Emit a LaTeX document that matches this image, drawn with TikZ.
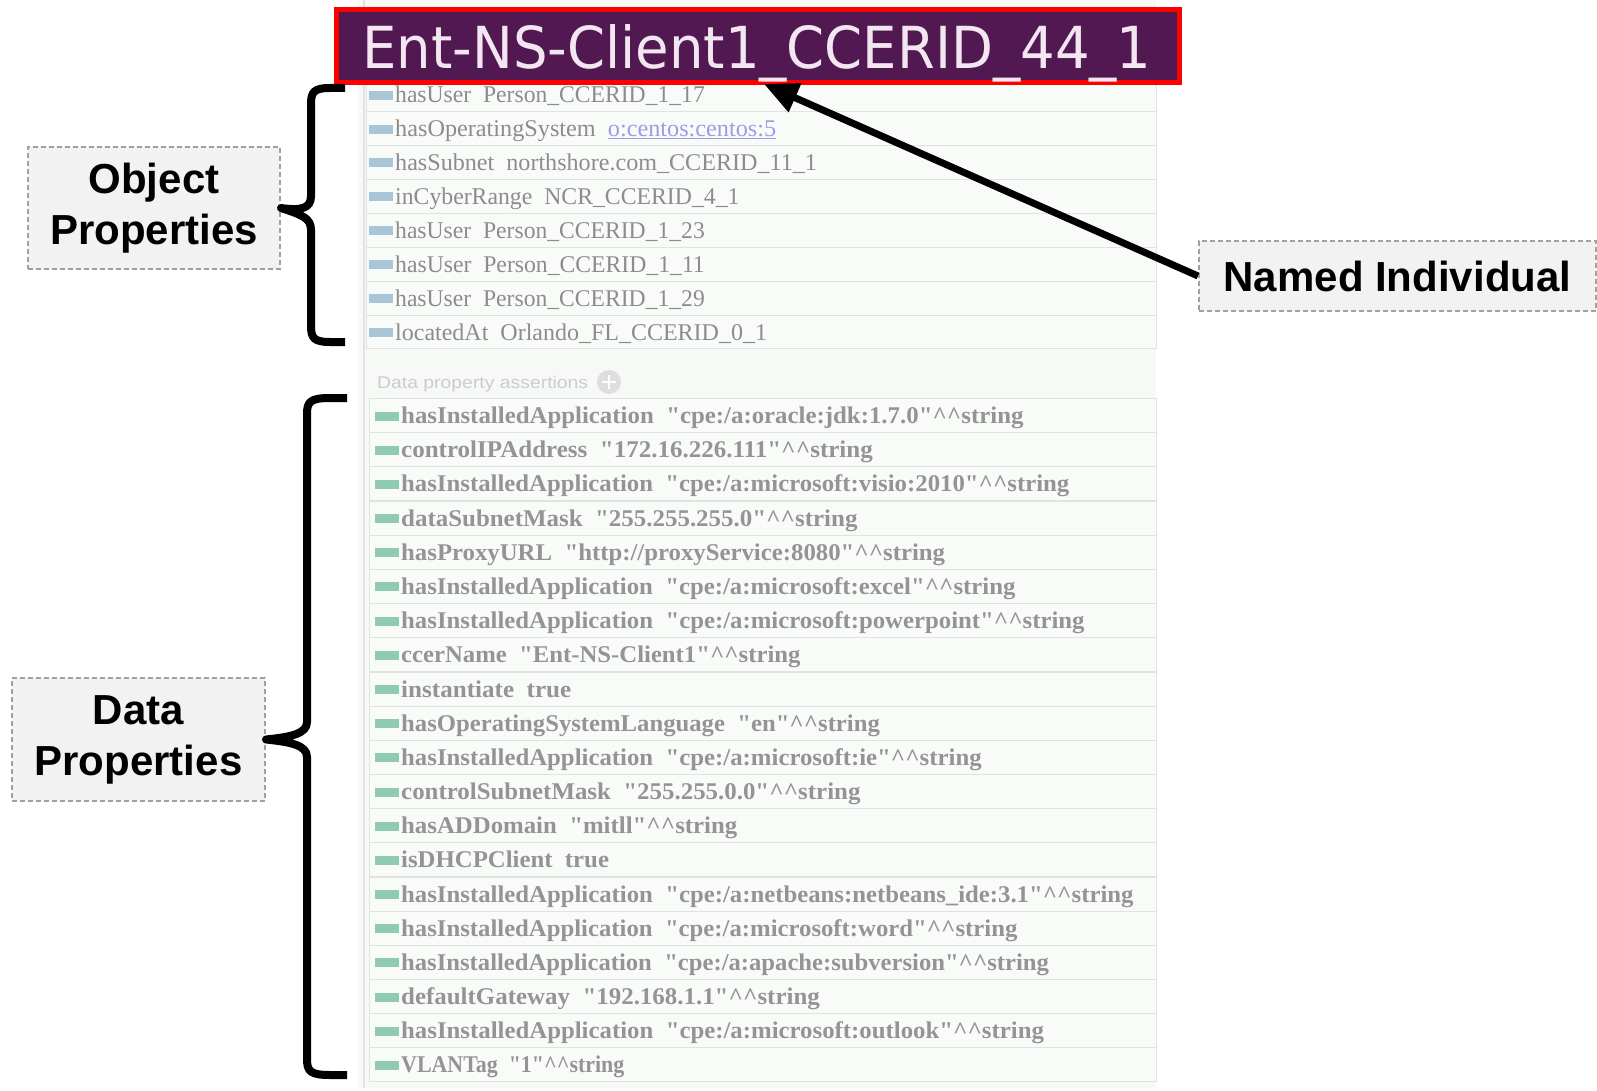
\documentclass[tikz,border=0pt]{standalone}
\usepackage{graphicx}
\usepackage{fontspec}
\setmainfont{Liberation Serif}[Ligatures=TeXOff]
\newfontfamily\labfont{Liberation Sans}
\newfontfamily\titfont{DejaVu Sans}
\usetikzlibrary{arrows.meta}
\definecolor{titlefill}{HTML}{521852}
\definecolor{titletext}{HTML}{F2E6F0}
\definecolor{panelbg}{HTML}{F7F9F7}
\definecolor{rowline}{HTML}{E0E4E0}
\definecolor{rowfill}{HTML}{F9FBF9}
\definecolor{objbar}{HTML}{A9C5D8}
\definecolor{databar}{HTML}{8FCAB3}
\definecolor{rowtext}{HTML}{8C8C8C}
\definecolor{drowtext}{HTML}{949494}
\definecolor{linktext}{HTML}{9C9CE6}
\definecolor{labelfill}{HTML}{F2F2F2}
\definecolor{labeldraw}{HTML}{A0A0A0}
\newcommand\q{\symbol{34}}
\newcommand\hh{\textasciicircum\textasciicircum}
\tikzset{
  rowbox/.style={draw=rowline, fill=rowfill, line width=1pt},
  rowtxt/.style={inner sep=0pt, text=rowtext, font=\fontsize{24}{24}\selectfont},
  drowtxt/.style={inner sep=0pt, text=drowtext, font=\fontsize{24}{24}\selectfont\bfseries},
  labelbox/.style={draw=labeldraw, fill=labelfill, dashed, dash pattern=on 5pt off 3pt, line width=2pt,
     align=center, inner sep=0pt, font=\labfont\bfseries\fontsize{42}{51}\selectfont},
  bracepath/.style={line width=8pt, line join=round, line cap=butt},
  bigarrow/.style={line width=7pt, -{Triangle[length=34pt,width=30pt]}},
}
\newcommand\orow[4]{%
  \draw[rowbox] (366,#2-16.9) rectangle (1156,#2+16.9);
  \fill[objbar] (369,#2-4) rectangle (393,#2+5);
  \node[rowtxt,anchor=base west] (#1) at (395,#2+8) {\resizebox{#3pt}{\height}{#4}};
}
\newcommand\drow[4]{%
  \draw[rowbox] (369,#2-17) rectangle (1156,#2+17);
  \fill[databar] (375,#2-4) rectangle (399,#2+5);
  \node[drowtxt,anchor=base west] (#1) at (401,#2+8) {\resizebox{#3pt}{\height}{#4}};
}
\begin{document}
\begin{tikzpicture}[x=1pt,y=-1pt]
\useasboundingbox (0,0) rectangle (1597,1091);
% panel
\fill[panelbg] (358,0) rectangle (1156,1088);
\draw[rowline, line width=1.5pt] (364,0) -- (364,1088);
% object rows
\orow{o1}{94.7}{309.6}{hasUser\ \ Person\_CCERID\_1\_17}
\orow{o2}{128.6}{381}{hasOperatingSystem\ \ \textcolor{linktext}{\underline{o:centos:centos:5}}}
\orow{o3}{162.5}{421.7}{hasSubnet\ \ northshore.com\_CCERID\_11\_1}
\orow{o4}{196.4}{344.3}{inCyberRange\ \ NCR\_CCERID\_4\_1}
\orow{o5}{230.3}{309.6}{hasUser\ \ Person\_CCERID\_1\_23}
\orow{o6}{264.2}{309.6}{hasUser\ \ Person\_CCERID\_1\_11}
\orow{o7}{298.1}{309.6}{hasUser\ \ Person\_CCERID\_1\_29}
\orow{o8}{332.0}{371.8}{locatedAt\ \ Orlando\_FL\_CCERID\_0\_1}
% data header
\node[inner sep=0pt, anchor=base west, text=black!20, font=\labfont\fontsize{17}{17}\selectfont] (dhead) at (377,388)
  {\resizebox{211pt}{\height}{Data property assertions}};
\node[circle, fill=black!13, minimum size=24pt, inner sep=0pt] (plus) at (609,382) {};
\draw[white, line width=2.5pt] (plus.center) ++(-7,0) -- ++(14,0);
\draw[white, line width=2.5pt] (plus.center) ++(0,-7) -- ++(0,14);
% data rows
\drow{d1}{415.5}{622.3}{hasInstalledApplication\ \ \q cpe:/a:oracle:jdk:1.7.0\q\hh string}
\drow{d2}{449.7}{471.6}{controlIPAddress\ \ \q 172.16.226.111\q\hh string}
\drow{d3}{483.9}{668.1}{hasInstalledApplication\ \ \q cpe:/a:microsoft:visio:2010\q\hh string}
\drow{d4}{518.0}{456.3}{dataSubnetMask\ \ \q 255.255.255.0\q\hh string}
\drow{d5}{552.2}{543.9}{hasProxyURL\ \ \q http://proxyService:8080\q\hh string}
\drow{d6}{586.4}{614.2}{hasInstalledApplication\ \ \q cpe:/a:microsoft:excel\q\hh string}
\drow{d7}{620.6}{683.4}{hasInstalledApplication\ \ \q cpe:/a:microsoft:powerpoint\q\hh string}
\drow{d8}{654.8}{399.3}{ccerName\ \ \q Ent-NS-Client1\q\hh string}
\drow{d9}{689.0}{170.1}{instantiate\ \ true}
\drow{d10}{723.1}{478.7}{hasOperatingSystemLanguage\ \ \q en\q\hh string}
\drow{d11}{757.3}{580.5}{hasInstalledApplication\ \ \q cpe:/a:microsoft:ie\q\hh string}
\drow{d12}{791.5}{459.3}{controlSubnetMask\ \ \q 255.255.0.0\q\hh string}
\drow{d13}{825.7}{336.1}{hasADDomain\ \ \q mitll\q\hh string}
\drow{d14}{859.9}{207.8}{isDHCPClient\ \ true}
\drow{d15}{894.0}{732.3}{hasInstalledApplication\ \ \q cpe:/a:netbeans:netbeans\_ide:3.1\q\hh string}
\drow{d16}{928.2}{616.2}{hasInstalledApplication\ \ \q cpe:/a:microsoft:word\q\hh string}
\drow{d17}{962.4}{647.8}{hasInstalledApplication\ \ \q cpe:/a:apache:subversion\q\hh string}
\drow{d18}{996.6}{418.6}{defaultGateway\ \ \q 192.168.1.1\q\hh string}
\drow{d19}{1030.8}{642.7}{hasInstalledApplication\ \ \q cpe:/a:microsoft:outlook\q\hh string}
\drow{d20}{1064.9}{223.1}{VLANTag\ \ \q 1\q\hh string}
% title
\node[draw=red, fill=titlefill, line width=5pt, minimum width=843pt, minimum height=73pt, inner sep=0pt] (title) at (757.5,45.7) {};
\node[inner sep=0pt, anchor=base, text=titletext, font=\titfont] (titletxt) at (757,69)
  {\resizebox{789pt}{44pt}{Ent-NS-Client1\_CCERID\_44\_1}};
% labels
\node[labelbox, minimum width=252pt, minimum height=122pt] (obj) at (154,208) {Object\\Properties};
\node[labelbox, minimum width=253pt, minimum height=123pt] (dat) at (138.5,739.5) {Data\\Properties};
\node[labelbox, minimum width=397pt, minimum height=70pt] (named) at (1397.5,276) {Named Individual};
% arrow
\coordinate (tip) at (764,84);
\draw[bigarrow] (named.west) -- (tip);
% braces
\coordinate (ot) at (345,88);
\coordinate (ob) at (345,342);
\draw[bracepath] (ot) -- (330,88) .. controls (314,88) and (311,92) .. (311,104)
  -- (311,196) .. controls (311,208) and (302,211) .. (obj.east)
  .. controls (302,215) and (311,218) .. (311,230)
  -- (311,326) .. controls (311,338) and (314,342) .. (330,342) -- (ob);
\coordinate (dt) at (347,398);
\coordinate (db) at (347,1075);
\draw[bracepath] (dt) -- (330,398) .. controls (310,398) and (307,402) .. (307,414)
  -- (307,722) .. controls (307,734) and (290,737) .. (dat.east)
  .. controls (290,742) and (307,745) .. (307,757)
  -- (307,1059) .. controls (307,1071) and (310,1075) .. (330,1075) -- (db);
\end{tikzpicture}
\end{document}
